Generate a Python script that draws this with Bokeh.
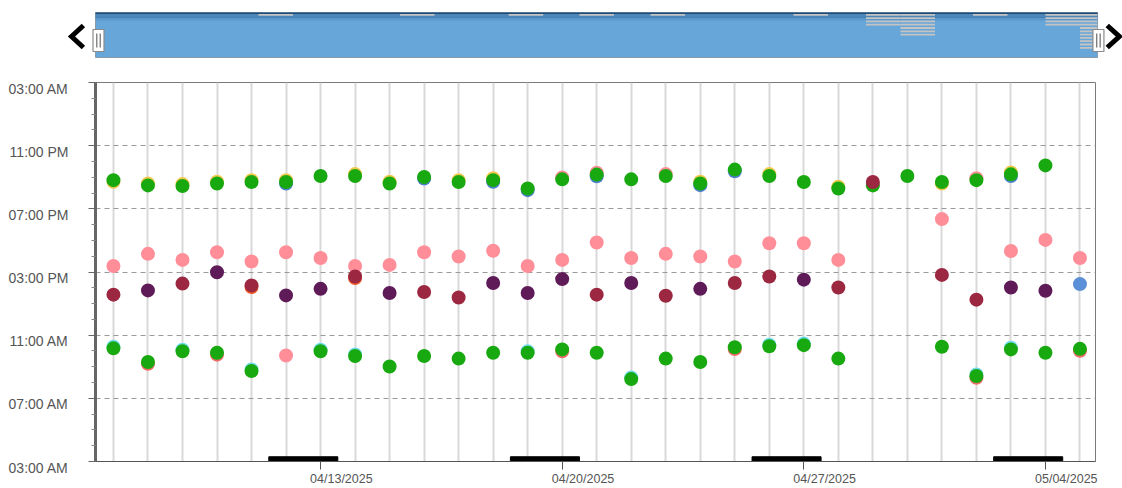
import pandas as pd
from bokeh.plotting import figure
from bokeh.models import Range1d, FixedTicker, ColumnDataSource
from bokeh.embed import file_html
from bokeh.resources import INLINE

# ---------------- data ----------------
dates = ["2025-04-07", "2025-04-08", "2025-04-09", "2025-04-10", "2025-04-11", "2025-04-12",
         "2025-04-13", "2025-04-14", "2025-04-15", "2025-04-16", "2025-04-17", "2025-04-18",
         "2025-04-19", "2025-04-20", "2025-04-21", "2025-04-22", "2025-04-23", "2025-04-24",
         "2025-04-25", "2025-04-26", "2025-04-27", "2025-04-28", "2025-04-29", "2025-04-30",
         "2025-05-01", "2025-05-02", "2025-05-03", "2025-05-04", "2025-05-05"]

x_tick_dates = ["2025-04-13", "2025-04-20", "2025-04-27", "2025-05-04"]
x_tick_labels = ["04/13/2025", "04/20/2025", "04/27/2025", "05/04/2025"]
weekend_sat = ["2025-04-12", "2025-04-19", "2025-04-26", "2025-05-03"]
weekend_sun = ["2025-04-13", "2025-04-20", "2025-04-27", "2025-05-04"]

y_tick_hours = [3, 7, 11, 15, 19, 23, 27]
y_tick_labels = ["03:00 AM", "07:00 AM", "11:00 AM", "03:00 PM", "07:00 PM", "11:00 PM", "03:00 AM"]

green_pm = ["20:49", "20:29", "20:27", "20:36", "20:42", "20:42", "21:05", "21:05", "20:36", "21:01",
            "20:42", "20:49", "20:17", "20:52", "21:10", "20:52", "21:05", "20:36", "21:29", "21:05",
            "20:42", "20:17", "20:29", "21:05", "20:42", "20:49", "21:11", "21:45", None]

green_am = ["10:10", "09:18", "09:59", "09:53", "08:44", None, "09:59", "09:41", "09:01", "09:41",
            "09:31", "09:53", "09:53", "10:06", "09:53", "08:13", "09:31", "09:18", "10:14", "10:18",
            "10:22", "09:31", None, None, "10:16", "08:25", "10:06", "09:53", "10:08"]

pink_pm = ["15:23", "16:09", "15:46", "16:15", "15:40", "16:15", "15:53", "15:23", "15:27", "16:15",
           "15:59", "16:21", "15:23", "15:46", "16:52", "15:53", "16:09", "15:59", "15:40", "16:49",
           "16:49", "15:46", None, None, "18:21", None, "16:20", "17:02", "15:53"]

pink_am = {"2025-04-12": "09:43"}

darkred = {"2025-04-07": "13:34", "2025-04-09": "14:16", "2025-04-11": "14:09", "2025-04-14": "14:43",
           "2025-04-16": "13:44", "2025-04-17": "13:23", "2025-04-21": "13:34", "2025-04-23": "13:30",
           "2025-04-25": "14:18", "2025-04-26": "14:43", "2025-04-28": "14:01", "2025-04-29": "20:42",
           "2025-05-01": "14:49", "2025-05-02": "13:15"}

purple = {"2025-04-08": "13:50", "2025-04-10": "14:59", "2025-04-12": "13:31", "2025-04-13": "13:56",
          "2025-04-15": "13:40", "2025-04-18": "14:18", "2025-04-19": "13:40", "2025-04-20": "14:33",
          "2025-04-22": "14:18", "2025-04-24": "13:56", "2025-04-27": "14:31", "2025-05-03": "14:01",
          "2025-05-04": "13:49"}

blue_mid = {"2025-05-05": "14:14"}

yellow_pm = {"2025-04-07": "20:43", "2025-04-08": "20:36", "2025-04-09": "20:34", "2025-04-10": "20:43",
             "2025-04-11": "20:49", "2025-04-12": "20:49", "2025-04-14": "21:12", "2025-04-15": "20:43",
             "2025-04-17": "20:49", "2025-04-18": "20:56", "2025-04-24": "20:43", "2025-04-26": "21:12",
             "2025-04-28": "20:24", "2025-05-01": "20:36", "2025-05-03": "21:18"}

blue_pm = {"2025-04-12": "20:36", "2025-04-16": "20:55", "2025-04-18": "20:43", "2025-04-19": "20:11",
           "2025-04-21": "21:04", "2025-04-24": "20:30", "2025-04-25": "21:23", "2025-05-03": "21:05"}

pink_eve = {"2025-04-20": "20:59", "2025-04-21": "21:17", "2025-04-23": "21:12", "2025-05-02": "20:56"}

cyan_am = {"2025-04-07": "10:16", "2025-04-09": "10:05", "2025-04-11": "08:50", "2025-04-13": "10:05",
           "2025-04-14": "09:47", "2025-04-19": "09:59", "2025-04-22": "08:19", "2025-04-26": "10:24",
           "2025-04-27": "10:28", "2025-05-02": "08:31", "2025-05-03": "10:12"}

salmon_am = {"2025-04-08": "09:11", "2025-04-10": "09:46", "2025-04-20": "09:59", "2025-04-25": "10:07",
             "2025-05-02": "08:18", "2025-05-05": "10:01"}

orange_mid = {"2025-04-11": "14:03", "2025-04-14": "14:37"}

# navigator mini-bars: start (days after first date), length (days), number of rows
nav_bar_start = [4.2, 8.3, 11.45, 13.5, 15.56, 19.7, 21.8, 22.8, 24.9, 27.0, 28.0]
nav_bar_len = [1.0, 1.0, 1.0, 1.0, 1.0, 1.0, 1.0, 1.0, 1.0, 1.0, 0.5]
nav_bar_rows = [1, 1, 1, 1, 1, 1, 4, 7, 1, 4, 11]

# ---------------- helpers ----------------
DAY = 86400000.0
NBSP = "\u00a0"


def ms(d):
    return pd.Timestamp(d).value / 1e6


def hours(t):
    h, m = t.split(":")
    return int(h) + int(m) / 60.0


def src_list(times):
    xs = [ms(d) for d, t in zip(dates, times) if t is not None]
    ys = [hours(t) for t in times if t is not None]
    return ColumnDataSource(dict(x=xs, y=ys))


def src_dict(dct):
    return ColumnDataSource(dict(x=[ms(d) for d in dct], y=[hours(t) for t in dct.values()]))


FONT = "Liberation Sans"
LABEL_COLOR = "#555555"
t0 = ms(dates[0])
x_start = t0 - 0.52 * DAY
x_end = t0 + 28.45 * DAY

# ---------------- main figure ----------------
p = figure(width=1122, height=430, x_axis_type="datetime",
           x_range=Range1d(x_start, x_end), y_range=Range1d(3, 27),
           output_backend="svg", toolbar_location=None,
           min_border_left=95, min_border_right=27, min_border_top=24, min_border_bottom=25)
p.background_fill_color = "white"
p.border_fill_color = "white"
p.outline_line_color = "#7a7a7a"
p.outline_line_width = 1

p.xgrid.ticker = FixedTicker(ticks=[ms(d) for d in dates])
p.xgrid.grid_line_color = "#d9d9d9"
p.xgrid.grid_line_width = 2
p.ygrid.ticker = FixedTicker(ticks=y_tick_hours[1:-1])
p.ygrid.grid_line_color = "#9a9a9a"
p.ygrid.grid_line_dash = "5 4"
p.ygrid.grid_line_width = 1

x_ticks = [ms(d) for d in x_tick_dates]
p.xaxis.ticker = FixedTicker(ticks=x_ticks)
# labels sit to the right of their tick in the reference: pad them on the left
p.xaxis.major_label_overrides = {t: NBSP * 12 + lab for t, lab in zip(x_ticks, x_tick_labels)}
p.xaxis.axis_line_color = "#555555"
p.xaxis.major_tick_out = 8
p.xaxis.major_tick_in = 0
p.xaxis.major_tick_line_color = "#555555"
p.xaxis.minor_tick_line_color = None
p.xaxis.major_label_standoff = 2
p.xaxis.major_label_text_font = FONT
p.xaxis.major_label_text_font_size = "12.5px"
p.xaxis.major_label_text_color = LABEL_COLOR

minor = [h for h in range(3, 28) if h not in y_tick_hours]
p.yaxis.ticker = FixedTicker(ticks=y_tick_hours, minor_ticks=minor)
# labels hang just below their tick in the reference
p.yaxis.major_label_overrides = {h: "\n" + lab for h, lab in zip(y_tick_hours, y_tick_labels)}
p.yaxis.major_label_text_line_height = 0.75
p.yaxis.axis_line_width = 3
p.yaxis.axis_line_color = "#666666"
p.yaxis.major_tick_out = 7
p.yaxis.major_tick_in = 0
p.yaxis.minor_tick_out = 4
p.yaxis.minor_tick_in = 0
p.yaxis.major_tick_line_color = "#666666"
p.yaxis.minor_tick_line_color = "#888888"
p.yaxis.major_label_standoff = 20
p.yaxis.major_label_text_font = FONT
p.yaxis.major_label_text_font_size = "14px"
p.yaxis.major_label_text_color = LABEL_COLOR

# weekend bars
wk = ColumnDataSource(dict(left=[ms(d) - 0.5 * DAY for d in weekend_sat],
                           right=[ms(d) + 0.5 * DAY for d in weekend_sun]))
p.quad(left="left", right="right", bottom=3.0, top=3.3, source=wk, color="black")

S = 14
layers = [
    (src_dict(yellow_pm), "#f2c94c"),
    (src_dict(blue_pm), "#4f7fd0"),
    (src_dict(pink_eve), "#ff8e99"),
    (src_dict(cyan_am), "#6fdcec"),
    (src_dict(salmon_am), "#f26b6b"),
    (src_dict(orange_mid), "#f05a28"),
    (src_list(green_pm), "#18a810"),
    (src_list(green_am), "#18a810"),
    (src_list(pink_pm), "#ff8e99"),
    (src_dict(pink_am), "#ff8e99"),
    (src_dict(blue_mid), "#5b8fd8"),
    (src_dict(purple), "#5e1b58"),
    (src_dict(darkred), "#9c2741"),
]
for src, col in layers:
    p.scatter(x="x", y="y", source=src, size=S, fill_color=col, line_color=None)

# ---------------- navigator ----------------
PX_PER_DAY = 1000 / 28.97
n_start = t0 - (95 + 0.52 * PX_PER_DAY) / PX_PER_DAY * DAY
n_end = n_start + 1122 / PX_PER_DAY * DAY
nav = figure(width=1122, height=58, x_range=Range1d(n_start, n_end),
             y_range=Range1d(58, 0), output_backend="svg", toolbar_location=None,
             x_axis_location=None, y_axis_location=None,
             min_border_left=0, min_border_right=0, min_border_top=0, min_border_bottom=0)
nav.grid.visible = False
nav.outline_line_color = None
nav.background_fill_color = "white"
nav.border_fill_color = "white"

b_left = x_start
b_right = x_end + 0.06 * DAY
nav.quad(left=b_left, right=b_right, bottom=57, top=12, fill_color="#66a6d8", line_color="#8a9cac", line_width=1)
nav.quad(left=b_left, right=b_right, bottom=20, top=17, fill_color="#5c98cc", line_color=None)
nav.quad(left=b_left, right=b_right, bottom=17, top=16, fill_color="#2f6596", line_color=None)
nav.quad(left=b_left, right=b_right, bottom=16, top=13.5, fill_color="#4f86b8", line_color=None)
nav.quad(left=b_left, right=b_right, bottom=13.5, top=12, fill_color="#1d4b78", line_color=None)

nl, nr, nt, nb = [], [], [], []
for s, ln, r in zip(nav_bar_start, nav_bar_len, nav_bar_rows):
    for i in range(r):
        nl.append(t0 + s * DAY)
        nr.append(t0 + (s + ln) * DAY)
        nt.append(13.4 + 3.3 * i)
        nb.append(15.2 + 3.3 * i)
nav.quad(left=nl, right=nr, top=nt, bottom=nb, fill_color="#c4c4c4", line_color=None)

# arrows
nav.line(x=[t0 - 0.87 * DAY, t0 - 1.215 * DAY, t0 - 0.87 * DAY], y=[25, 36, 47],
         line_color="black", line_width=5, line_join="miter")
nav.line(x=[t0 + 28.79 * DAY, t0 + 29.14 * DAY, t0 + 28.79 * DAY], y=[25, 36, 47],
         line_color="black", line_width=5, line_join="miter")
# handles
for cx in [t0 - 0.433 * DAY, t0 + 28.535 * DAY]:
    nav.rect(x=cx, y=40, width=11, height=22, width_units="screen", height_units="screen",
             fill_color="white", line_color="#8a8a8a", line_width=1.2)
    nav.rect(x=[cx - 0.05 * DAY, cx + 0.05 * DAY], y=40, width=1.3, height=14,
             width_units="screen", height_units="screen", fill_color="#777777", line_color=None)

open("out.html", "w").write(file_html([nav, p], INLINE))
